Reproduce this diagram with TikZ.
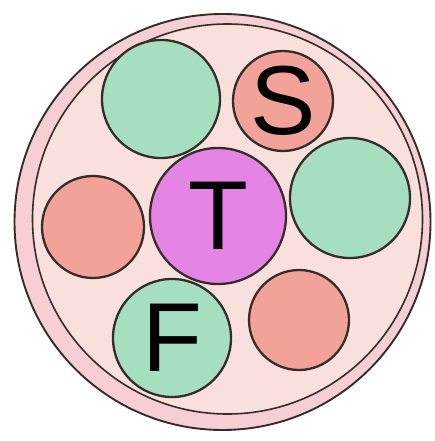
\documentclass[tikz,border=0pt]{standalone}
\usepackage{fontspec}
\setmainfont{Liberation Sans}
\usepackage{tikz}
\definecolor{ringpink}{RGB}{246,206,212}
\definecolor{innerpink}{RGB}{250,224,221}
\definecolor{cellgreen}{RGB}{166,222,192}
\definecolor{cellred}{RGB}{242,162,152}
\definecolor{cellmagenta}{RGB}{230,132,230}
\definecolor{inkgray}{RGB}{52,46,42}

\begin{document}
\begin{tikzpicture}[x=1pt, y=-1pt,
    cell/.style={circle, draw=inkgray, line width=2.3pt, inner sep=0pt,
                 font=\fontsize{98}{98}\selectfont}]
    \useasboundingbox (0,0) rectangle (434,441);

    % Enveloppe (deux contours)
    \node[circle, draw=inkgray, line width=1.9pt, fill=ringpink,
          minimum size=416pt] (out) at (222.5,222) {};
    \node[circle, draw=inkgray, line width=1.6pt, fill=innerpink,
          minimum size=390pt] (in) at (227.5,219) {};

    % Cercle central
    \node[cell, fill=cellmagenta, minimum size=136pt] (T) at (218,216) {T};

    % Cercles verts
    \node[cell, fill=cellgreen, minimum size=118pt] (G1) at (161,99) {};
    \node[cell, fill=cellgreen, minimum size=120pt] (G2) at (350,198) {};
    \node[cell, fill=cellgreen, minimum size=118pt] (F) at (172,338) {F};

    % Cercles rouges
    \node[cell, fill=cellred, minimum size=100pt] (S) at (283,101) {S};
    \node[cell, fill=cellred, minimum size=102pt] (R1) at (93,227) {};
    \node[cell, fill=cellred, minimum size=100pt] (R2) at (299,320) {};
\end{tikzpicture}
\end{document}
